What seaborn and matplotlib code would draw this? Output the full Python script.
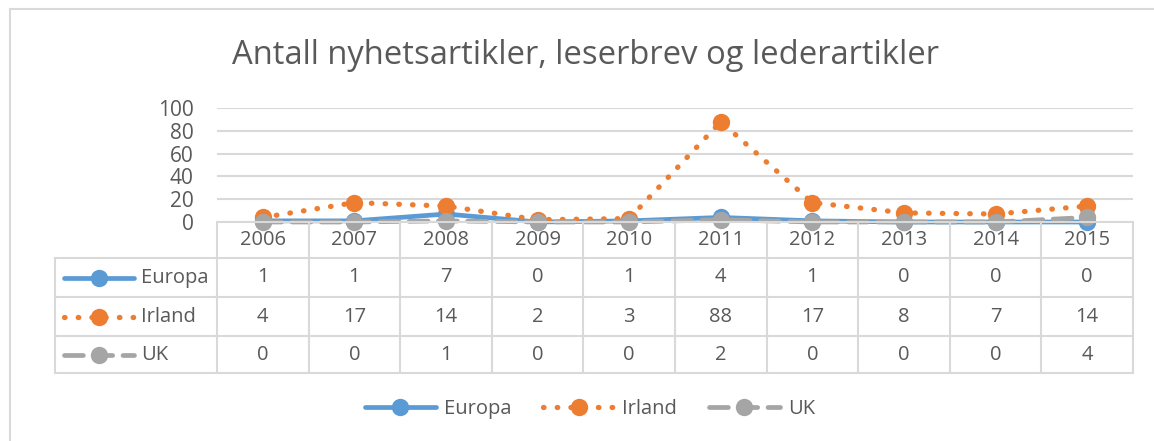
import numpy as np
import pandas as pd
from matplotlib import pyplot as plt
from matplotlib.lines import Line2D
import seaborn as sns

years = ["2006", "2007", "2008", "2009", "2010", "2011", "2012", "2013", "2014", "2015"]
europa = [1, 1, 7, 0, 1, 4, 1, 0, 0, 0]
irland = [4, 17, 14, 2, 3, 88, 17, 8, 7, 14]
uk = [0, 0, 1, 0, 0, 2, 0, 0, 0, 4]
series_names = ["Europa", "Irland", "UK"]
y_ticks = [0, 20, 40, 60, 80, 100]

W, H = 1154, 441
TXT = "#595959"
GRID = "#d9d9d9"
FONT = ["Open Sans", "DejaVu Sans"]

sns.set_style("white")
plt.rcParams["font.family"] = FONT

styles = {
    "Europa": dict(color="#5b9bd5", linestyle="-", lw=3.4, ms=12.5),
    "Irland": dict(color="#ed7d31", linestyle=(0, (0.1, 2.5)), lw=3.8, ms=12.5),
    "UK": dict(color="#a5a5a5", linestyle=(0, (4, 2.2)), lw=3.4, ms=12.5),
}

fig = plt.figure(figsize=(W / 100, H / 100), dpi=100)

# outer frame (only top and left visible)
fig.add_artist(Line2D([9.5 / W, 9.5 / W], [1 - 8.5 / H, 0], color=GRID, lw=1.5))
fig.add_artist(Line2D([9.5 / W, 1], [1 - 8.5 / H, 1 - 8.5 / H], color=GRID, lw=1.5))

left, right, top, bottom = 217, 1133, 108, 222
ax = fig.add_axes([left / W, 1 - bottom / H, (right - left) / W, (bottom - top) / H])

df = pd.DataFrame({"year": np.arange(len(years)), "Europa": europa, "Irland": irland, "UK": uk})
for name in series_names:
    st = styles[name]
    sns.lineplot(data=df, x="year", y=name, ax=ax, color=st["color"], linestyle=st["linestyle"],
                 linewidth=st["lw"], marker="o", markersize=st["ms"],
                 markeredgewidth=0, dash_capstyle="round", solid_capstyle="round", clip_on=False)

ax.set_xlim(-0.5, len(years) - 0.5)
ax.set_ylim(0, 100)
ax.set_yticks(y_ticks)
ax.set_xticks([])
ax.set_xlabel("")
ax.set_ylabel("")
ax.tick_params(axis="y", length=0, labelsize=15, labelcolor=TXT, pad=17)
ax.grid(axis="y", color=GRID, lw=1.5)
for s in ax.spines.values():
    s.set_visible(False)

fig.text(585 / W, 1 - 55 / H, "Antall nyhetsartikler, leserbrev og lederartikler", color=TXT,
         fontsize=23.6, ha="center", va="center")

# data table
tab = fig.add_axes([0, 0, 1, 1], facecolor="none")
tab.set_xlim(0, W)
tab.set_ylim(H, 0)
tab.axis("off")
rows_y = [222, 258, 297, 336, 373]
label_left = 55
colw = (right - left) / len(years)
lc = dict(color=GRID, lw=1.5)
tab.plot([left, right], [rows_y[0], rows_y[0]], **lc)
for yy in rows_y[1:]:
    tab.plot([label_left, right], [yy, yy], **lc)
tab.plot([label_left, label_left], [rows_y[1], rows_y[-1]], **lc)
for i in range(len(years) + 1):
    x = left + i * colw
    tab.plot([x, x], [rows_y[0], rows_y[-1]], **lc)

fkw = dict(color=TXT, fontsize=14.5, va="center", ha="center")
for i, yr in enumerate(years):
    tab.text(left + (i + 0.5) * colw, (rows_y[0] + rows_y[1]) / 2, yr, **fkw)

values = {"Europa": europa, "Irland": irland, "UK": uk}
for r, name in enumerate(series_names):
    yc = (rows_y[r + 1] + rows_y[r + 2]) / 2
    st = styles[name]
    tab.plot([64, 134], [yc, yc], color=st["color"], linestyle=st["linestyle"], lw=st["lw"],
             dash_capstyle="round", solid_capstyle="round")
    tab.plot([99], [yc], marker="o", ms=st["ms"], color=st["color"], markeredgewidth=0)
    tab.text(141, yc, name, **{**fkw, "ha": "left"})
    for i, v in enumerate(values[name]):
        tab.text(left + (i + 0.5) * colw, yc, str(v), **fkw)

handles = [Line2D([0], [0], color=styles[n]["color"], linestyle=styles[n]["linestyle"],
                  lw=styles[n]["lw"], marker="o", ms=styles[n]["ms"], markeredgewidth=0,
                  dash_capstyle="round", solid_capstyle="round") for n in series_names]
leg = fig.legend(handles, series_names, loc="center", bbox_to_anchor=(590 / W, 1 - 409 / H),
                 ncol=3, frameon=False, handlelength=3.5, columnspacing=1.6,
                 handletextpad=0.4, prop={"size": 14.5})
for t in leg.get_texts():
    t.set_color(TXT)

fig.savefig("out.png", dpi=100, facecolor="white")
